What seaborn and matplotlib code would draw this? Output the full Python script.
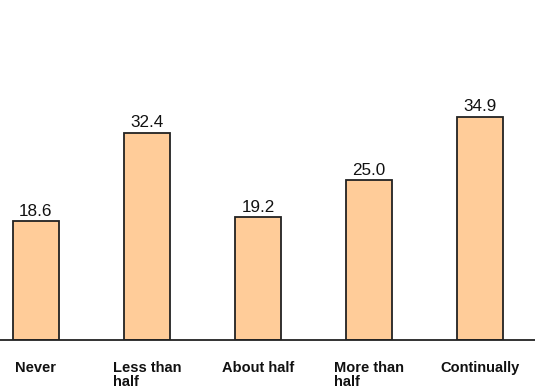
import matplotlib
matplotlib.use("Agg")
import matplotlib.pyplot as plt
import seaborn as sns
import pandas as pd

categories = ["Never", "Less than\nhalf", "About half", "More than\nhalf", "Continually"]
values = [18.6, 32.4, 19.2, 25.0, 34.9]
value_labels = ["18.6", "32.4", "19.2", "25.0", "34.9"]

sns.set_theme(style="white")
plt.rcParams['font.family'] = ['Liberation Sans', 'DejaVu Sans']

df = pd.DataFrame({"cat": categories, "val": values})

fig = plt.figure(figsize=(5.35, 3.92), dpi=100)
ax = fig.add_axes([0, 52 / 392, 1, 340 / 392])
sns.barplot(data=df, x="cat", y="val", color="#FFCC99", saturation=1,
            edgecolor="#222222", linewidth=1.3, width=0.41, ax=ax)

ax.set_xlim(-0.324, 4.495)
ax.set_ylim(0, 53.1)
ax.set_xlabel("")
ax.set_ylabel("")
ax.set_yticks([])
for s in ["top", "right", "left"]:
    ax.spines[s].set_visible(False)
ax.spines["bottom"].set_color("#222222")
ax.spines["bottom"].set_linewidth(1.3)

ax.bar_label(ax.containers[0], labels=value_labels, padding=1.5,
             fontsize=12.3, color="#111111")

ax.tick_params(axis="x", length=0, pad=15)
ax.set_xticks(range(len(categories)))
ax.set_xticklabels(categories, fontsize=10.5, fontweight="bold",
                   multialignment="left", linespacing=1.05, color="#111111")
for t in ax.get_xticklabels():
    t.set_verticalalignment("top")

fig.savefig("out.png", dpi=100)
